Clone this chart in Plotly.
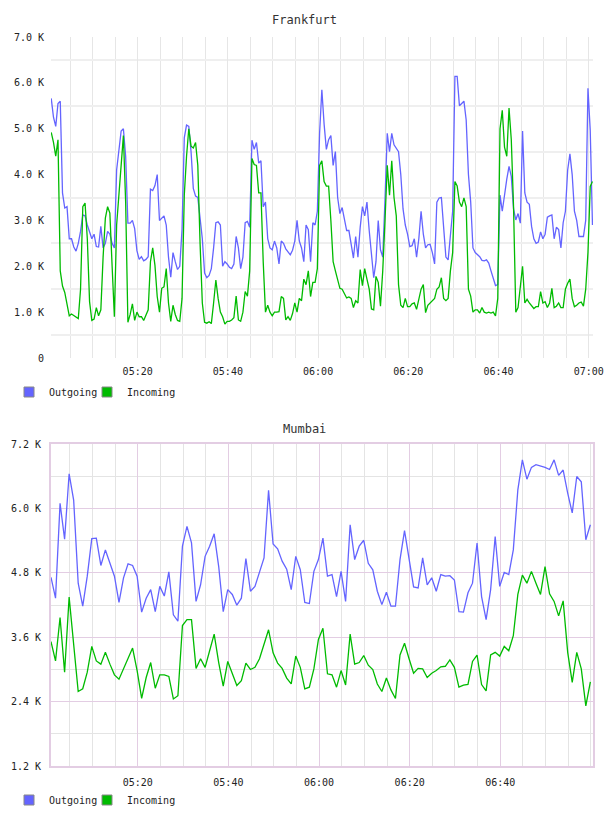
import plotly.graph_objects as go
import pandas as pd

# ---------------- data (values in K) ----------------
FRA_START = "2024-01-01 05:00:50"
MUM_START = "2024-01-01 05:00:52"

fra_outgoing_k = [
    5.66, 5.25, 5.05, 5.55, 5.6, 3.6, 3.27, 3.3, 2.6, 2.6,
    2.42, 2.33, 2.5, 2.76, 3.12, 3.1, 2.9, 2.72, 2.6, 2.7,
    2.43, 2.42, 2.87, 2.4, 2.5, 2.76, 2.7, 2.5, 2.4, 4.1,
    4.5, 4.95, 5.0, 4.4, 2.94, 2.94, 3.0, 2.82, 2.34, 2.15,
    2.21, 2.12, 2.15, 2.21, 3.68, 3.65, 3.76, 4.0, 3.0, 3.05,
    3.1, 2.9, 2.2, 1.76, 2.3, 2.1, 1.93, 2.0, 2.8, 4.8, 5.08,
    5.05, 4.5, 3.7, 3.53, 3.5, 3.1, 2.6, 1.85, 1.75, 1.8,
    1.95, 2.4, 2.95, 2.97, 2.9, 2.0, 2.1, 2.05, 1.98, 1.95,
    2.05, 2.65, 2.4, 1.95, 2.2, 2.95, 2.98, 2.85, 4.75, 4.55,
    4.7, 4.25, 4.3, 3.3, 3.4, 2.6, 2.4, 2.36, 2.55, 2.4,
    2.05, 2.55, 2.5, 2.38, 2.3, 2.25, 2.35, 2.55, 3.0, 2.55,
    2.4, 2.1, 2.9, 2.8, 2.1, 2.95, 2.9, 3.2, 4.9, 5.85,
    5.1, 4.55, 4.76, 4.85, 4.2, 4.5, 3.5, 3.15, 3.28, 3.0,
    2.78, 2.78, 2.43, 2.18, 2.65, 2.2, 2.85, 3.3, 3.1, 3.4,
    2.78, 2.25, 1.75, 2.1, 3.0, 2.36, 2.2, 3.45, 4.9, 4.5,
    4.9, 4.65, 4.58, 4.5, 4.0, 3.25, 2.9, 2.7, 2.43, 2.45,
    2.6, 2.2, 2.6, 3.2, 2.7, 2.4, 2.47, 2.48, 2.3, 2.05,
    3.4, 3.49, 3.5, 2.9, 2.2, 2.14, 2.6, 3.2, 6.14, 6.14,
    5.5, 5.55, 5.6, 5.19, 4.0, 3.4, 2.4, 2.3, 2.25, 2.21,
    2.13, 2.12, 2.14, 2.07, 1.9, 1.71, 1.58, 1.6, 3.55, 3.2,
    3.6, 3.9, 4.18, 3.96, 3.25, 3.01, 3.15, 2.94, 4.95, 3.6,
    3.4, 3.35, 2.87, 2.6, 2.5, 2.53, 2.75, 2.6, 2.7, 3.07,
    3.1, 3.12, 2.6, 2.85, 2.8, 2.4, 2.95, 3.2, 4.1, 4.45,
    4.0, 3.2, 3.0, 2.65, 2.65, 2.65, 3.0, 5.88, 4.97, 2.9,
]

fra_incoming_k = [
    4.92, 4.7, 4.4, 4.76, 1.9, 1.57, 1.43, 1.2, 0.92, 0.96,
    0.93, 0.89, 0.86, 1.5, 3.3, 3.38, 2.6, 1.23, 0.82, 0.85,
    1.1, 0.92, 1.05, 2.2, 3.05, 3.3, 3.16, 2.0, 0.9, 2.9,
    3.6, 4.35, 4.85, 3.4, 0.78, 0.95, 1.18, 0.82, 1.0, 0.9,
    0.9, 0.82, 0.92, 1.05, 2.1, 2.4, 2.02, 1.34, 1.0, 1.52,
    1.55, 1.95, 1.2, 0.8, 1.15, 0.95, 0.82, 0.8, 1.3, 3.55, 4.4,
    5.0, 4.62, 4.58, 4.7, 4.2, 2.5, 1.2, 0.78, 0.76, 0.79,
    0.75, 1.2, 1.7, 1.3, 1.0, 0.9, 0.74, 0.8, 0.8, 0.83,
    0.88, 1.35, 0.83, 0.8, 1.0, 1.45, 1.35, 1.9, 4.35, 4.22,
    4.2, 3.6, 3.6, 2.1, 1.0, 1.15, 1.0, 0.92, 1.0, 1.0,
    1.01, 1.34, 1.3, 0.83, 0.9, 0.82, 0.97, 1.2, 1.0, 1.3,
    1.25, 1.72, 1.6, 1.9, 1.34, 1.65, 1.65, 1.95, 4.2, 4.3,
    3.85, 3.75, 3.75, 3.0, 2.1, 1.9, 1.7, 1.52, 1.5, 1.4,
    1.31, 1.33, 1.3, 1.1, 1.25, 1.2, 1.93, 1.58, 1.95, 1.72,
    1.5, 1.07, 1.05, 1.78, 1.65, 1.13, 1.9, 3.0, 4.2, 3.55,
    4.3, 3.5, 3.1, 1.6, 1.15, 1.1, 1.3, 1.12, 1.12, 1.18,
    1.2, 1.06, 1.25, 1.5, 1.6, 0.99, 1.15, 1.2, 1.25, 1.3,
    1.5, 1.55, 1.75, 1.3, 1.25, 1.3, 1.9, 2.3, 3.85, 3.75,
    3.4, 3.3, 3.49, 3.3, 1.5, 1.35, 1.0, 1.05, 1.05, 0.98,
    1.1, 1.0, 0.98, 1.0, 0.98, 1.0, 0.92, 1.3, 5.0, 5.4,
    4.6, 4.4, 5.45, 4.76, 3.3, 1.0, 1.1, 1.5, 2.0, 1.2,
    1.28, 1.2, 1.15, 1.08, 1.12, 1.12, 1.45, 1.2, 1.23, 1.1,
    1.2, 1.52, 1.1, 1.13, 1.2, 1.1, 1.1, 1.5, 1.63, 1.72,
    1.3, 1.12, 1.15, 1.2, 1.22, 1.13, 1.5, 2.3, 3.74, 3.85,
]

mum_outgoing_k = [
    4.72, 4.33, 6.1, 5.43, 6.65, 6.16, 4.61, 4.18, 4.74, 5.44,
    5.45, 4.94, 5.23, 4.98, 4.74, 4.25, 4.71, 4.97, 4.94, 4.74,
    4.07, 4.33, 4.49, 4.08, 4.55, 4.37, 4.82, 4.02, 3.9, 5.3,
    5.67, 5.36, 4.27, 4.58, 5.11, 5.3, 5.53, 4.92, 4.08, 4.49,
    4.4, 4.2, 4.33, 5.07, 4.46, 4.55, 4.8, 5.08, 6.34, 5.34,
    5.25, 5.02, 4.87, 4.49, 5.11, 4.86, 4.25, 4.23, 4.83, 5.05,
    5.45, 4.74, 4.77, 4.36, 4.83, 4.27, 5.7, 5.05, 5.3, 5.41,
    4.98, 4.86, 4.46, 4.21, 4.44, 4.18, 4.18, 5.05, 5.59, 5.08,
    4.54, 4.52, 5.08, 4.58, 4.71, 4.46, 4.77, 4.74, 4.75, 4.67,
    4.08, 4.07, 4.43, 4.61, 5.36, 4.36, 3.93, 4.49, 5.48, 4.55,
    4.81, 4.77, 5.23, 6.35, 6.91, 6.55, 6.77, 6.82, 6.8, 6.77,
    6.73, 6.91, 6.62, 6.72, 6.29, 5.92, 6.6, 6.5, 5.42, 5.7,
]

mum_incoming_k = [
    3.52, 3.16, 3.97, 2.95, 4.35, 3.48, 2.59, 2.64, 2.95, 3.43,
    3.16, 3.1, 3.32, 3.1, 2.9, 2.82, 3.01, 3.23, 3.4, 2.98,
    2.46, 2.85, 3.13, 2.65, 2.9, 2.9, 2.87, 2.45, 2.51, 3.82,
    3.93, 3.93, 3.02, 3.2, 3.04, 3.35, 3.66, 3.13, 2.69, 3.15,
    2.92, 2.7, 2.79, 3.12, 3.0, 3.04, 3.2, 3.48, 3.74, 3.31,
    3.12, 3.02, 2.84, 2.73, 3.25, 3.04, 2.64, 2.67, 3.01, 3.56,
    3.77, 2.92, 2.9, 2.67, 2.98, 2.71, 3.66, 3.1, 3.13, 3.26,
    3.08, 3.0, 2.73, 2.59, 2.84, 2.62, 2.46, 3.27, 3.49, 3.2,
    2.93, 3.02, 3.01, 2.85, 2.93, 2.98, 3.05, 3.06, 3.18, 3.04,
    2.67, 2.71, 2.72, 3.15, 3.27, 2.72, 2.6, 3.27, 3.32, 3.25,
    3.43, 3.35, 3.63, 4.4, 4.76, 4.61, 4.83, 4.61, 4.4, 4.92,
    4.41, 4.27, 4.0, 4.28, 3.32, 2.76, 3.32, 3.01, 2.32, 2.77,
]

fra_ytick_vals = [0, 1000, 2000, 3000, 4000, 5000, 6000, 7000]
fra_ytick_text = ["0", "1.0 K", "2.0 K", "3.0 K", "4.0 K", "5.0 K", "6.0 K", "7.0 K"]
fra_ygrid_vals = [500, 1500, 2500, 3500, 4500, 5500, 6500]
mum_ytick_vals = [1200, 2400, 3600, 4800, 6000, 7200]
mum_ytick_text = ["1.2 K", "2.4 K", "3.6 K", "4.8 K", "6.0 K", "7.2 K"]
fra_xtick_text = ["05:20", "05:40", "06:00", "06:20", "06:40", "07:00"]
mum_xtick_text = ["05:20", "05:40", "06:00", "06:20", "06:40"]
DAY = "2024-01-01 "

series_names = ["Outgoing", "Incoming"]

# ---------------- styling ----------------
BLUE = "#6464ff"
GREEN = "#00bb00"
FRA_GRID_V = "#e6e6e6"
FRA_GRID_H = "#efefef"
MUM_PINK = "#e3cde3"
MUM_GREY = "#e4e4e4"
FONT = "DejaVu Sans Mono"
TXT = "#222222"

W, H = 608, 816
PX0, PX1 = 51, 593
FRA_TOP, FRA_BOT = 37, 358
MUM_TOP, MUM_BOT = 444.3, 766


def fx(px):
    return px / W


def fy(py):
    return 1 - py / H


fra_times = pd.date_range(FRA_START, periods=len(fra_outgoing_k), freq="30s")
mum_times = pd.date_range(MUM_START, periods=len(mum_outgoing_k), freq="60s")

fig = go.Figure()

# per-entry legend widths (last entry wide enough so its text is not clipped)
entry_widths = [33, 70]

for idx, (vals, name, col, grp) in enumerate([
    (fra_outgoing_k, series_names[0], BLUE, "fo"),
    (fra_incoming_k, series_names[1], GREEN, "fi"),
]):
    fig.add_trace(go.Scatter(
        x=fra_times, y=[v * 1000 for v in vals], mode="lines", name=name,
        line=dict(color=col, width=1.3), xaxis="x", yaxis="y",
        legendgroup=grp, showlegend=False, hoverinfo="x+y+name"))
    fig.add_trace(go.Scatter(
        x=[None], y=[None], mode="markers", name=name, legendgroup=grp,
        legendwidth=entry_widths[idx],
        marker=dict(symbol="square", size=10, color=col, line=dict(color="#888888", width=1)),
        xaxis="x", yaxis="y", legend="legend"))

for idx, (vals, name, col, grp) in enumerate([
    (mum_outgoing_k, series_names[0], BLUE, "mo"),
    (mum_incoming_k, series_names[1], GREEN, "mi"),
]):
    fig.add_trace(go.Scatter(
        x=mum_times, y=[v * 1000 for v in vals], mode="lines", name=name,
        line=dict(color=col, width=1.3), xaxis="x2", yaxis="y2",
        legendgroup=grp, showlegend=False, hoverinfo="x+y+name"))
    fig.add_trace(go.Scatter(
        x=[None], y=[None], mode="markers", name=name, legendgroup=grp,
        legendwidth=entry_widths[idx],
        marker=dict(symbol="square", size=10, color=col, line=dict(color="#888888", width=1)),
        xaxis="x2", yaxis="y2", legend="legend2"))

tickfont = dict(family=FONT, size=10, color=TXT)

fra_xtick_vals = [DAY + t for t in fra_xtick_text]
mum_xtick_vals = [DAY + t for t in mum_xtick_text]

legend_style = dict(orientation="h", xanchor="left",
                    font=dict(family=FONT, size=10, color=TXT), bgcolor="rgba(0,0,0,0)",
                    entrywidthmode="pixels", itemwidth=30,
                    borderwidth=0, tracegroupgap=0)

fig.update_layout(
    width=W, height=H,
    margin=dict(l=0, r=0, t=0, b=0, autoexpand=False),
    paper_bgcolor="white", plot_bgcolor="white",
    font=dict(family=FONT, size=10, color=TXT),
    xaxis=dict(
        domain=[fx(PX0), fx(PX1)], anchor="y", type="date",
        range=["2024-01-01 05:00:47", "2024-01-01 07:00:57"],
        tickmode="array", tickvals=fra_xtick_vals, ticktext=fra_xtick_text,
        showgrid=True, gridcolor=FRA_GRID_V, gridwidth=1,
        minor=dict(dtick=300000, tick0="2024-01-01 05:00:00", showgrid=True,
                   gridcolor=FRA_GRID_V, gridwidth=1, ticks=""),
        showline=False, zeroline=False, ticks="", tickfont=tickfont,
        ticklabelstandoff=6, fixedrange=True,
    ),
    yaxis=dict(
        domain=[fy(FRA_BOT), fy(FRA_TOP)], anchor="x",
        range=[0, 7000], tickmode="array", tickvals=fra_ytick_vals, ticktext=fra_ytick_text,
        showgrid=False,
        minor=dict(tickmode="array", tickvals=fra_ygrid_vals, showgrid=True,
                   gridcolor=FRA_GRID_H, gridwidth=2, ticks=""),
        showline=False, zeroline=False, ticks="", tickfont=tickfont,
        ticklabelstandoff=6, fixedrange=True,
    ),
    xaxis2=dict(
        domain=[fx(PX0), fx(PX1)], anchor="y2", type="date",
        range=["2024-01-01 05:00:52", "2024-01-01 07:00:27"],
        tickmode="array", tickvals=mum_xtick_vals, ticktext=mum_xtick_text,
        showgrid=True, gridcolor=MUM_PINK, gridwidth=1,
        minor=dict(dtick=300000, tick0="2024-01-01 05:00:00", showgrid=True,
                   gridcolor=MUM_GREY, gridwidth=1, ticks=""),
        showline=True, linecolor=MUM_PINK, linewidth=2, mirror=True,
        zeroline=False, ticks="", tickfont=tickfont,
        ticklabelstandoff=6, fixedrange=True,
    ),
    yaxis2=dict(
        domain=[fy(MUM_BOT), fy(MUM_TOP)], anchor="x2",
        range=[1200, 7200], tickmode="array", tickvals=mum_ytick_vals, ticktext=mum_ytick_text,
        showgrid=True, gridcolor=MUM_PINK, gridwidth=1,
        minor=dict(dtick=600, tick0=0, showgrid=True, gridcolor=MUM_GREY, gridwidth=1, ticks=""),
        showline=True, linecolor=MUM_PINK, linewidth=2, mirror=True,
        zeroline=False, ticks="", tickfont=tickfont,
        ticklabelstandoff=6, fixedrange=True,
    ),
    legend=dict(x=fx(9), y=fy(392), yanchor="middle", **legend_style),
    legend2=dict(x=fx(9), y=fy(800), yanchor="middle", **legend_style),
    annotations=[
        dict(text="Frankfurt", x=0.5, y=fy(20), xref="paper", yref="paper",
             showarrow=False, xanchor="center", yanchor="middle",
             font=dict(family=FONT, size=12, color="#333333")),
        dict(text="Mumbai", x=0.5, y=fy(429), xref="paper", yref="paper",
             showarrow=False, xanchor="center", yanchor="middle",
             font=dict(family=FONT, size=12, color="#333333")),
    ],
)

fig.write_html("out.html")
